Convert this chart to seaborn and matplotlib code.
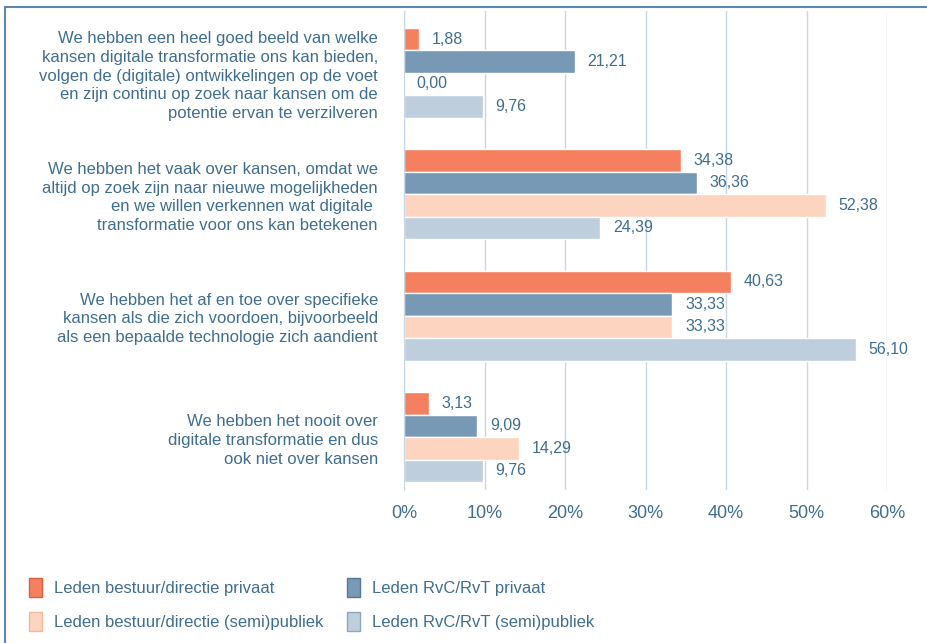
"""Digitale transformatie - kansen (horizontale staafgrafiek)"""

import matplotlib
matplotlib.use("Agg")
import matplotlib.pyplot as plt
from matplotlib.patches import Patch, Rectangle
import seaborn as sns
import pandas as pd

categories = [
    "We hebben een heel goed beeld van welke\nkansen digitale transformatie ons kan bieden,\n"
    "volgen de (digitale) ontwikkelingen op de voet\nen zijn continu op zoek naar kansen om de\n"
    "potentie ervan te verzilveren",
    "We hebben het vaak over kansen, omdat we\naltijd op zoek zijn naar nieuwe mogelijkheden\n"
    "en we willen verkennen wat digitale \ntransformatie voor ons kan betekenen",
    "We hebben het af en toe over specifieke\nkansen als die zich voordoen, bijvoorbeeld\n"
    "als een bepaalde technologie zich aandient",
    "We hebben het nooit over\ndigitale transformatie en dus\nook niet over kansen",
]
series = [
    "Leden bestuur/directie privaat",
    "Leden RvC/RvT privaat",
    "Leden bestuur/directie (semi)publiek",
    "Leden RvC/RvT (semi)publiek",
]
bestuur_privaat = [1.88, 34.38, 40.63, 3.13]
rvc_privaat = [21.21, 36.36, 33.33, 9.09]
bestuur_publiek = [0.00, 52.38, 33.33, 14.29]
rvc_publiek = [9.76, 24.39, 56.10, 9.76]
xticks = [0, 10, 20, 30, 40, 50, 60]

colors = ["#F5805F", "#7799B5", "#FDD4C0", "#BFCEDD"]
edges = ["#D9603F", "#55789A", "#F0B8A0", "#8FA6BE"]
text_color = "#3F6E90"
grid_color = "#C9D6E3"

rows = []
for s, vals in zip(series, [bestuur_privaat, rvc_privaat, bestuur_publiek, rvc_publiek]):
    for c, v in zip(categories, vals):
        rows.append({"categorie": c, "groep": s, "waarde": v})
df = pd.DataFrame(rows)

sns.set_style("white")
plt.rcParams["font.family"] = ["Liberation Sans", "DejaVu Sans"]

fig = plt.figure(figsize=(9.27, 6.43), dpi=100)
ax = fig.add_axes([0.436, 0.238, 0.521, 0.745])

sns.barplot(data=df, y="categorie", x="waarde", hue="groep", order=categories,
            hue_order=series, palette=colors, orient="h", width=0.74,
            saturation=1, legend=False, ax=ax)

ax.set_xlim(0, 60)
ax.set_ylim(3.435, -0.509)
ax.set_xticks(xticks)
ax.set_xticklabels([f"{t}%" for t in xticks], fontsize=13, color=text_color)
ax.tick_params(axis="x", length=0, pad=11)
ax.tick_params(axis="y", length=0, pad=19)
for lbl in ax.get_yticklabels():
    lbl.set_fontsize(12)
    lbl.set_color(text_color)
    lbl.set_horizontalalignment("right")
    lbl.set_linespacing(1.3)
ax.set_xlabel("")
ax.set_ylabel("")
ax.xaxis.grid(True, color=grid_color, linewidth=1)
ax.set_axisbelow(True)
for side in ["top", "right", "bottom"]:
    ax.spines[side].set_visible(False)
ax.spines["left"].set_color(grid_color)

# waardelabels
for container in ax.containers:
    labels = [f"{b.get_width():.2f}".replace(".", ",") for b in container]
    ax.bar_label(container, labels=labels, padding=9, fontsize=11.5, color=text_color)

# legenda
handles = [Patch(facecolor=c, edgecolor=e, linewidth=1) for c, e in zip(colors, edges)]
order = [0, 2, 1, 3]
fig.legend([handles[i] for i in order], [series[i] for i in order],
           loc="upper left", bbox_to_anchor=(0.015, 0.125), ncol=2, frameon=False,
           fontsize=12, labelcolor=text_color, handlelength=0.8, handleheight=1.4,
           handletextpad=0.7, columnspacing=1.4, labelspacing=0.9)

# kader
fig.patches.append(Rectangle((0.005, -0.05), 1.2, 1.039, transform=fig.transFigure,
                             fill=False, edgecolor="#5F87A8", linewidth=1.5))

fig.savefig("out.png", dpi=100)
